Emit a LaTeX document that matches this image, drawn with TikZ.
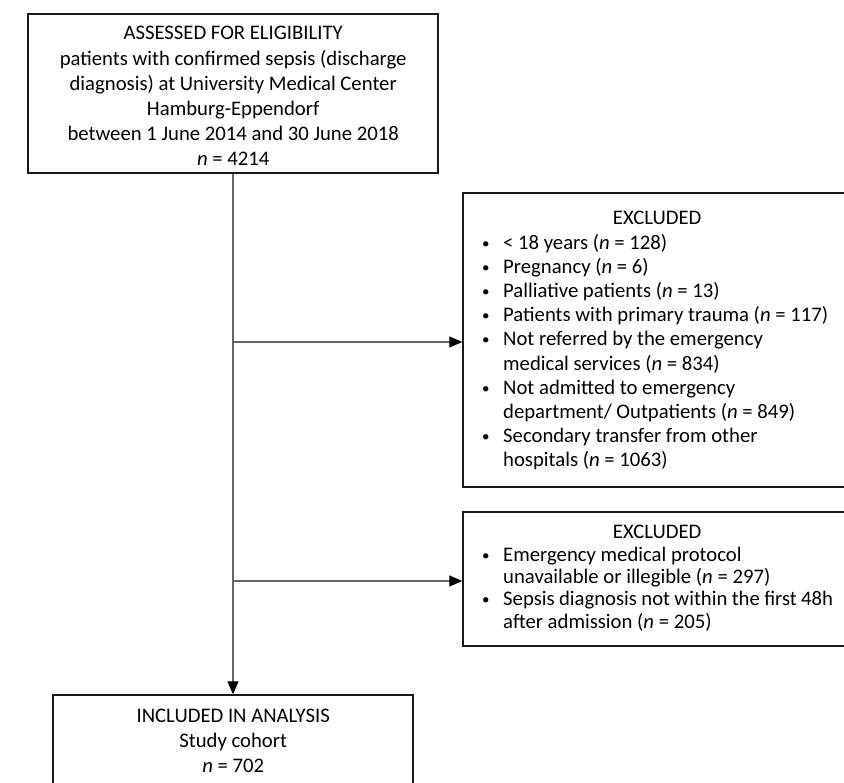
\documentclass[tikz,border=0pt]{standalone}
\usepackage{fontspec}
\setmainfont{Carlito}
\usetikzlibrary{arrows.meta}
\newcommand\bitem[1]{\par\hangindent=22pt\hangafter=1\noindent\makebox[22pt][l]{\hspace{1pt}\raisebox{1pt}{\fontsize{15pt}{15pt}\selectfont\textbullet}}#1}
\begin{document}
\begin{tikzpicture}[x=1pt,y=-1pt,
  box/.style={draw=black!90, line width=1.4pt, rectangle, inner sep=0pt},
  conn/.style={draw=black!60, line width=1.3pt},
  arr/.style={conn, -{Triangle[length=13pt,width=11pt,color=black]}},
  txt/.style={inner sep=0pt, anchor=base west, font=\fontsize{20.7pt}{25.2pt}\selectfont}]
\useasboundingbox (0,0) rectangle (844,783);
\fill[white] (0,0) rectangle (844,783);
\clip (0,0) rectangle (844,783);
% boxes
\node[box, minimum width=410pt, minimum height=159pt] (top) at (233,93.5) {};
\node[box, minimum width=388pt, minimum height=294pt] (ex1) at (657,340) {};
\node[box, minimum width=388pt, minimum height=134pt] (ex2) at (657,579) {};
\node[box, minimum width=360pt, minimum height=120pt] (inc) at (233,755) {};
% texts
\node[txt] (toptext) at (33,40) {\parbox[t]{400pt}{\centering
  ASSESSED FOR ELIGIBILITY\\
  patients with confirmed sepsis (discharge\\
  diagnosis) at University Medical Center\\
  Hamburg-Eppendorf\\
  between 1 June 2014 and 30 June 2018\\
  \textit{n} = 4214}};
\node[txt] (ex1text) at (481,225) {\parbox[t]{352pt}{\fontsize{20.7pt}{24.2pt}\selectfont
  {\centering EXCLUDED\par}\raggedright
  \bitem{< 18 years (\textit{n} = 128)}
  \bitem{Pregnancy (\textit{n} = 6)}
  \bitem{Palliative patients (\textit{n} = 13)}
  \bitem{Patients with primary trauma (\textit{n} = 117)}
  \bitem{Not referred by the emergency\newline medical services (\textit{n} = 834)}
  \bitem{Not admitted to emergency\newline department/ Outpatients (\textit{n} = 849)}
  \bitem{Secondary transfer from other\newline hospitals (\textit{n} = 1063)}\par}};
\node[txt] (ex2text) at (481,539) {\parbox[t]{352pt}{\fontsize{20.7pt}{22.3pt}\selectfont
  {\centering EXCLUDED\par}\raggedright
  \bitem{Emergency medical protocol\newline unavailable or illegible (\textit{n} = 297)}
  \bitem{Sepsis diagnosis not within the first 48h\newline after admission (\textit{n} = 205)}\par}};
\node[txt] (inctext) at (58,722) {\parbox[t]{350pt}{\centering
  INCLUDED IN ANALYSIS\\
  Study cohort\\
  \textit{n} = 702}};
% connectors
\coordinate (j1) at (233,342);
\coordinate (j2) at (233,581);
\draw[arr] (top.south) -- (inc.north);
\draw[arr] (j1) -- (j1 -| ex1.west);
\draw[arr] (j2) -- (j2 -| ex2.west);
\end{tikzpicture}
\end{document}
